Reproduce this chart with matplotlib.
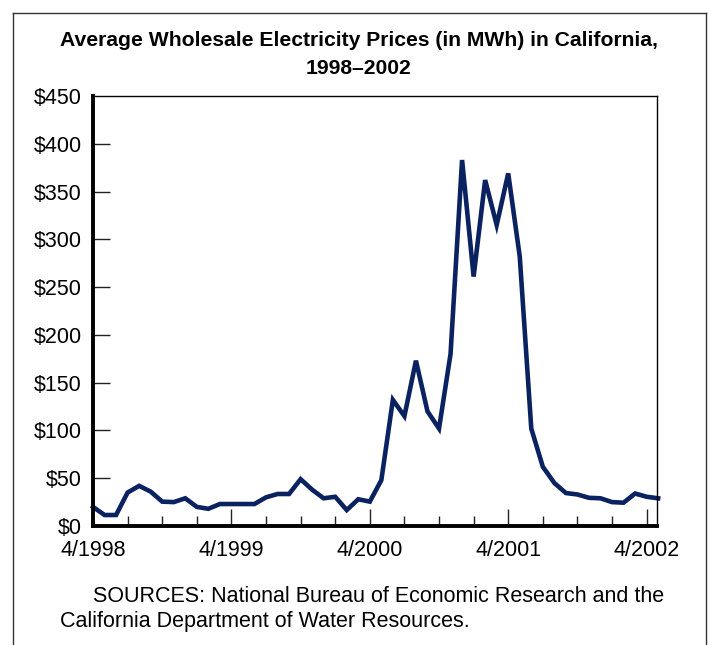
import matplotlib.pyplot as plt
from matplotlib.lines import Line2D
from matplotlib.ticker import FixedLocator

plt.rcParams['font.family'] = ['Liberation Sans', 'DejaVu Sans']

# monthly average price, 4/1998 .. 5/2002
months = list(range(50))
prices = [20, 11.5, 11.5, 35, 42, 36, 25.5, 25, 29, 20, 18, 23, 23, 23,
          23, 30, 33.5, 33.5, 49, 38, 29, 30.6, 16.7, 28, 25.5, 48, 132,
          115, 173, 120, 102, 180, 383, 261, 362, 315, 369, 282, 102, 62,
          45, 34.5, 33, 29.5, 29, 25, 24.4, 34, 30.6, 29]

year_ticks = [0, 12, 24, 36, 48]
year_labels = ["4/1998", "4/1999", "4/2000", "4/2001", "4/2002"]
quarter_ticks = [3, 6, 9, 15, 18, 21, 27, 30, 33, 39, 42, 45]
y_ticks = [0, 50, 100, 150, 200, 250, 300, 350, 400, 450]

fig = plt.figure(figsize=(7.09, 6.45), dpi=100)
ax = fig.add_axes([93 / 709, 1 - 526 / 645, (657 - 93) / 709, (526 - 96) / 645])

ax.plot(months, prices, color="#0b2260", linewidth=3.3, solid_joinstyle="miter", clip_on=False)

ax.set_xlim(0, 48.9)
ax.set_ylim(0, 450)

ax.set_xticks(year_ticks)
ax.set_xticklabels(year_labels, fontsize=15.5)
ax.xaxis.set_minor_locator(FixedLocator(quarter_ticks))
ax.set_yticks(y_ticks)
ax.set_yticklabels(["$" + str(v) for v in y_ticks], fontsize=15.5)

ax.tick_params(axis="x", which="major", direction="in", length=12, width=1.0, pad=10, color="#222222")
ax.tick_params(axis="x", which="minor", direction="in", length=7, width=1.0, color="#222222")
ax.tick_params(axis="y", which="major", direction="in", length=12, width=1.0, pad=8, color="#222222")

for t in ax.yaxis.get_major_ticks():
    if t.get_loc() in (0, 450):
        t.tick1line.set_visible(False)

ax.spines["left"].set_linewidth(2.8)
ax.spines["bottom"].set_linewidth(2.8)
ax.spines["top"].set_linewidth(1.0)
ax.spines["right"].set_linewidth(1.0)

fig.text(0.506, 1 - 41 / 645, "Average Wholesale Electricity Prices (in MWh) in California,",
         ha="center", va="center", fontsize=15.2, fontweight="bold")
fig.text(0.506, 1 - 69 / 645, "1998\u20132002", ha="center", va="center",
         fontsize=15.2, fontweight="bold")

fig.text(93 / 709, 1 - 597 / 645, "SOURCES: National Bureau of Economic Research and the",
         ha="left", va="center", fontsize=15.5)
fig.text(60 / 709, 1 - 621 / 645, "California Department of Water Resources.",
         ha="left", va="center", fontsize=15.5)

# outer frame, open at the bottom
fx0, fx1, fy = 13 / 709, 706 / 709, 1 - 13 / 645
for xs, ys in [([fx0, fx0], [0, fy]), ([fx0, fx1], [fy, fy]), ([fx1, fx1], [fy, 0])]:
    fig.add_artist(Line2D(xs, ys, color="#333333", linewidth=1.0, transform=fig.transFigure))

fig.savefig("out.png", dpi=100)
